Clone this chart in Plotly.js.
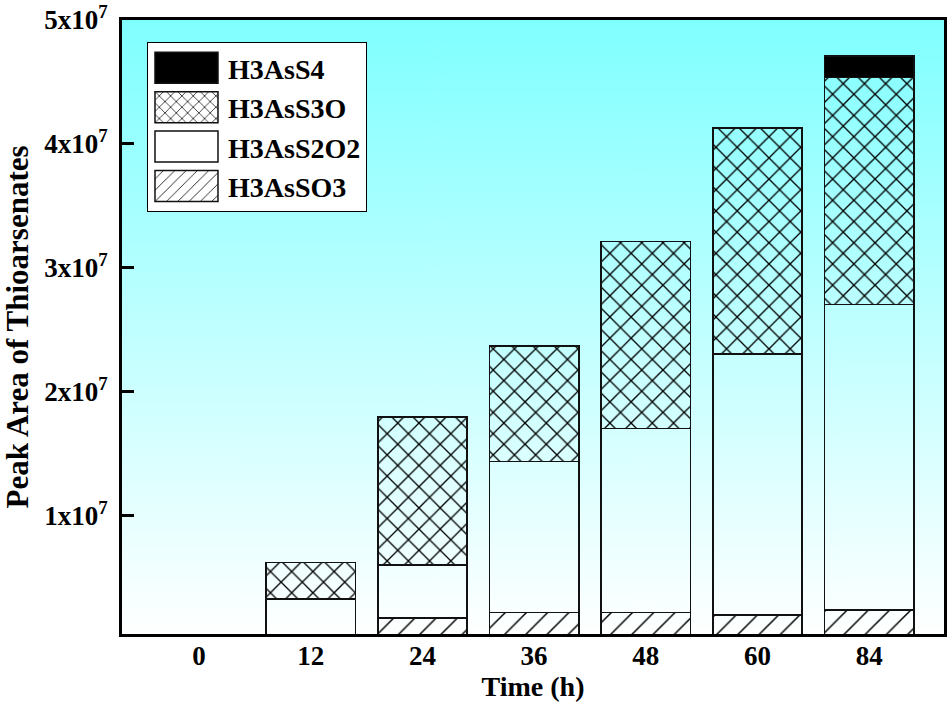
<!DOCTYPE html>
<html>
<head>
<meta charset="utf-8">
<script src="https://cdn.plot.ly/plotly-3.0.1.min.js"></script>
<style>html,body{margin:0;padding:0;background:#fff;}#chart{width:950px;height:710px;}</style>
</head>
<body>
<div id="chart"></div>
<script>
// ---- data ----
const times = ['0', '12', '24', '36', '48', '60', '84'];
const h3asso3  = [null, null, 1.76e6, 2.22e6, 2.22e6, 2.03e6, 2.43e6];
const h3ass2o2 = [null, 3.32e6, 4.29e6, 1.217e7, 1.482e7, 2.105e7, 2.462e7];
const h3ass3o  = [null, 2.93e6, 1.193e7, 9.31e6, 1.511e7, 1.82e7, 1.83e7];
const h3ass4   = [null, null, null, null, null, null, 1.73e6];
const yTickVals = [1e7, 2e7, 3e7, 4e7, 5e7];
const yTickText = ['1x10<sup>7</sup>', '2x10<sup>7</sup>', '3x10<sup>7</sup>', '4x10<sup>7</sup>', '5x10<sup>7</sup>'];

// background gradient
const cv = document.createElement('canvas');
cv.width = 4; cv.height = 400;
const ctx = cv.getContext('2d');
const g = ctx.createLinearGradient(0, 0, 0, 400);
g.addColorStop(0, '#80ffff');
g.addColorStop(1, '#ffffff');
ctx.fillStyle = g;
ctx.fillRect(0, 0, 4, 400);
const bgURL = cv.toDataURL('image/png');

const FONT = 'Liberation Serif, Times New Roman, serif';
const line = {color: '#111111', width: 1.5};
function tr(name, y, pattern, color) {
  return {
    type: 'bar', name: name, x: times, y: y, width: 0.8,
    marker: {color: color, line: line, pattern: pattern},
    hoverinfo: 'x+y+name'
  };
}
const data = [
  tr('H3AsSO3', h3asso3, {shape: '/', size: 15, solidity: 0.1, fgcolor: '#000000', bgcolor: 'rgba(0,0,0,0)'}, 'rgba(0,0,0,0)'),
  tr('H3AsS2O2', h3ass2o2, {shape: '', bgcolor: 'rgba(0,0,0,0)'}, 'rgba(0,0,0,0)'),
  tr('H3AsS3O', h3ass3o, {shape: 'x', size: 15, solidity: 0.17, fgcolor: '#000000', bgcolor: 'rgba(0,0,0,0)'}, 'rgba(0,0,0,0)'),
  tr('H3AsS4', h3ass4, {shape: ''}, '#000000')
];

const layout = {
  width: 950, height: 710,
  margin: {l: 122, r: 6, t: 20, b: 76},
  paper_bgcolor: '#ffffff',
  plot_bgcolor: 'rgba(0,0,0,0)',
  barmode: 'stack',
  font: {family: FONT, size: 27, color: '#000', weight: 'bold'},
  images: [{source: bgURL, xref: 'paper', yref: 'paper', x: 0, y: 1, sizex: 1, sizey: 1,
            sizing: 'stretch', xanchor: 'left', yanchor: 'top', layer: 'below'}],
  xaxis: {
    type: 'category', categoryorder: 'array', categoryarray: times,
    range: [-0.69, 6.67],
    showline: true, linecolor: '#000', linewidth: 3, mirror: true,
    ticks: '', showgrid: false, zeroline: false,
    tickfont: {family: FONT, size: 27, weight: 'bold'},
    ticklabelstandoff: -4,
    title: {text: 'Time (h)', font: {family: FONT, size: 28, weight: 'bold'}, standoff: 6}
  },
  yaxis: {
    range: [4.8e5, 5.0e7],
    tickvals: yTickVals, ticktext: yTickText,
    showline: true, linecolor: '#000', linewidth: 3, mirror: true,
    ticks: 'inside', ticklen: 12, tickwidth: 3, tickcolor: '#000',
    showgrid: false, zeroline: false,
    tickfont: {family: FONT, size: 27, weight: 'bold'},
    ticklabelstandoff: 6,
    title: {text: 'Peak Area of Thioarsenates', font: {family: FONT, size: 31, weight: 'bold'}, standoff: 17}
  },
  showlegend: true,
  legend: {
    x: 0.0304, y: 0.964, xanchor: 'left', yanchor: 'top',
    bgcolor: '#ffffff', bordercolor: '#000', borderwidth: 1,
    font: {family: FONT, size: 28, weight: 'bold'},
    traceorder: 'reversed', itemwidth: 70
  }
};

Plotly.newPlot('chart', data, layout, {displayModeBar: false, staticPlot: true}).then(function (gd) {
  gd.querySelectorAll('.legend .traces .legendpoints path').forEach(function (p) {
    p.setAttribute('d', 'M7,-15.5H70V15.5H7Z');
    p.removeAttribute('transform');
  });
});
</script>
</body>
</html>
